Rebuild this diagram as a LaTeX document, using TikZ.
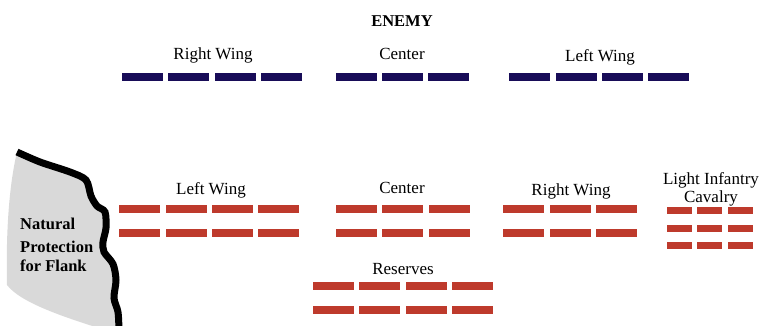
\documentclass[tikz,border=0pt]{standalone}
\usepackage{fontspec}
\setmainfont{Liberation Serif}
\definecolor{enemyblue}{RGB}{24,12,88}
\definecolor{armyred}{RGB}{190,58,44}
\definecolor{flankgray}{RGB}{217,217,217}
\begin{document}
\begin{tikzpicture}[x=1pt,y=-1pt,
  lbl/.style={font=\fontsize{17}{20}\selectfont, inner sep=0, anchor=base},
  blbl/.style={font=\fontsize{16.5}{20}\selectfont\bfseries, inner sep=0, anchor=base},
  ebar/.style={fill=enemyblue, minimum width=41pt, minimum height=8pt, inner sep=0, anchor=west},
  rbar/.style={fill=armyred, minimum width=41pt, minimum height=8pt, inner sep=0, anchor=west},
  sbar/.style={fill=armyred, minimum width=25pt, minimum height=7pt, inner sep=0, anchor=west}]
\useasboundingbox (0,0) rectangle (764,326);
\clip (0,0) rectangle (764,326);
% natural protection
\fill[flankgray] plot[smooth] coordinates {(17,152) (40,162) (70,172) (86,180) (91,196) (97,206) (105,212) (106,228) (103,242) (104,252) (113,264) (116,280) (114,298) (118,312) (119,330)}
  -- (105,330) .. controls (60,316) and (20,302) .. (7,285) .. controls (6,240) and (8,190) .. (17,152) -- cycle;
\draw[line width=7pt] plot[smooth] coordinates {(17,152) (40,162) (70,172) (86,180) (91,196) (97,206) (105,212) (106,228) (103,242) (104,252) (113,264) (116,280) (114,298) (118,312) (119,330)};
\node[blbl, anchor=base west] (nat1) at (20,230) {Natural};
\node[blbl, anchor=base west] (nat2) at (20,252) {Protection};
\node[blbl, anchor=base west] (nat3) at (20,272) {for Flank};
% enemy
\node[blbl] (enemy) at (402,27) {ENEMY};
\node[lbl] (erwl) at (213,60) {Right Wing};
\node[lbl] (ecl) at (402,60) {Center};
\node[lbl] (elwl) at (600,62) {Left Wing};
\foreach \x [count=\i] in {122,168,215,261} \node[ebar] (erw\i) at (\x,77) {};
\foreach \x [count=\i] in {336,382,428} \node[ebar] (ec\i) at (\x,77) {};
\foreach \x [count=\i] in {509,556,602,648} \node[ebar] (elw\i) at (\x,77) {};
% own army
\node[lbl] (lwl) at (211,195) {Left Wing};
\node[lbl] (cl) at (402,194) {Center};
\node[lbl] (rwl) at (571,196) {Right Wing};
\node[lbl] (lil) at (711,185) {Light Infantry};
\node[lbl] (cavl) at (711,203) {Cavalry};
\node[lbl] (resl) at (403,275) {Reserves};
\foreach \y [count=\j] in {209,233} {
  \foreach \x [count=\i] in {119,166,212,258} \node[rbar] (lw\j\i) at (\x,\y) {};
  \foreach \x [count=\i] in {336,382,429} \node[rbar] (c\j\i) at (\x,\y) {};
  \foreach \x [count=\i] in {503,550,596} \node[rbar] (rw\j\i) at (\x,\y) {};
}
\foreach \y [count=\j] in {210.5,228.5,245.5}
  \foreach \x [count=\i] in {667,697,728} \node[sbar] (li\j\i) at (\x,\y) {};
\foreach \y [count=\j] in {286,309.5}
  \foreach \x [count=\i] in {313,359,406,452} \node[rbar] (res\j\i) at (\x,\y) {};
\end{tikzpicture}
\end{document}
